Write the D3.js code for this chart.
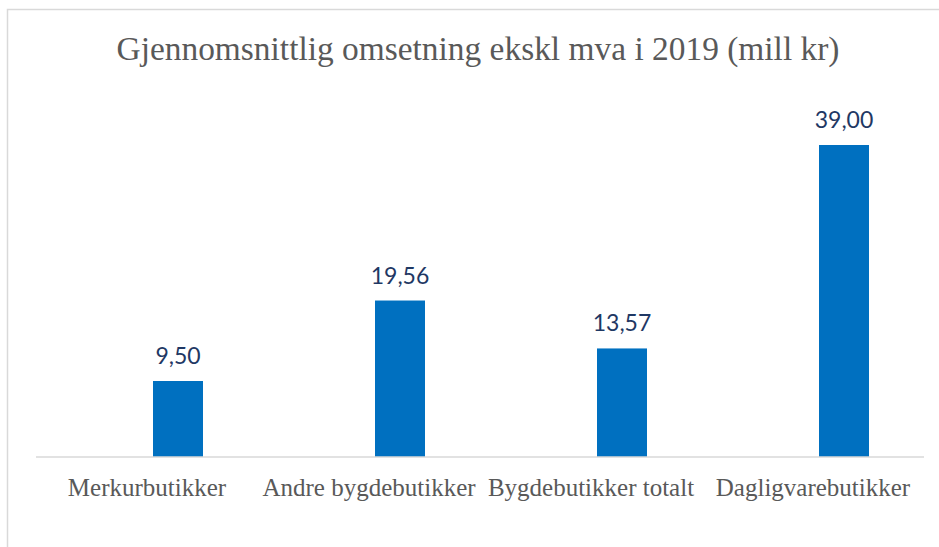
<!DOCTYPE html>
<html>
<head>
<meta charset="utf-8">
<script src="https://cdn.jsdelivr.net/npm/d3@7"></script>
<style>
    html, body { margin: 0; padding: 0; background: #ffffff; }
    svg { display: block; }
</style>
</head>
<body>
<svg id="chart"></svg>
<script>
const chartTitle = "Gjennomsnittlig omsetning ekskl mva i 2019 (mill kr)";
const shopTypes = ["Merkurbutikker", "Andre bygdebutikker", "Bygdebutikker totalt", "Dagligvarebutikker"];
const turnover = [9.50, 19.56, 13.57, 39.00];

const box = {
    width: 939,
    height: 547,
    plotLeft: 36,
    plotRight: 924,
    baseline: 457,
    pxPerUnit: 8.0,
    barWidth: 50,
    barShift: 31
};

const rows = shopTypes.map((name, i) => ({ name, value: turnover[i] }));

const svg = d3.select("#chart")
    .attr("width", box.width)
    .attr("height", box.height);

// chart frame, cropped on the right and bottom like the source
svg.append("rect")
    .attr("x", 7.5)
    .attr("y", 9.5)
    .attr("width", box.width + 20)
    .attr("height", box.height + 20)
    .attr("fill", "none")
    .attr("stroke", "#d9d9d9")
    .attr("stroke-width", 1.5);

const x = d3.scaleBand()
    .domain(shopTypes)
    .range([box.plotLeft, box.plotRight]);

const y = d3.scaleLinear()
    .domain([0, 40])
    .range([box.baseline, box.baseline - 40 * box.pxPerUnit]);

svg.append("text")
    .attr("x", 478)
    .attr("y", 60)
    .attr("text-anchor", "middle")
    .attr("font-family", "'Liberation Serif', serif")
    .attr("font-size", 34)
    .attr("fill", "#595959")
    .attr("textLength", 723)
    .attr("lengthAdjust", "spacingAndGlyphs")
    .text(chartTitle);

svg.selectAll(".bar")
    .data(rows)
    .join("rect")
    .attr("class", "bar")
    .attr("x", d => x(d.name) + x.bandwidth() / 2 + box.barShift - box.barWidth / 2)
    .attr("y", d => y(d.value))
    .attr("width", box.barWidth)
    .attr("height", d => y(0) - y(d.value))
    .attr("fill", "#0070c0");

svg.selectAll(".value-label")
    .data(rows)
    .join("text")
    .attr("class", "value-label")
    .attr("x", d => x(d.name) + x.bandwidth() / 2 + box.barShift)
    .attr("y", d => y(d.value) - 17)
    .attr("text-anchor", "middle")
    .attr("font-family", "Lato, sans-serif")
    .attr("font-size", 23)
    .attr("fill", "#1f3864")
    .text(d => d3.format(".2f")(d.value).replace(".", ","));

// category axis: line plus labels, no ticks
const axis = svg.append("g")
    .attr("transform", `translate(0,${box.baseline})`)
    .call(d3.axisBottom(x).tickSize(0).tickPadding(39));

axis.select(".domain")
    .attr("stroke", "#d9d9d9")
    .attr("stroke-width", 1.5)
    .attr("d", `M${box.plotLeft},0H${box.plotRight}`);

axis.selectAll(".tick text")
    .attr("font-family", "'Liberation Serif', serif")
    .attr("font-size", 25)
    .attr("fill", "#595959")
    .attr("dy", 0);
</script>
</body>
</html>
